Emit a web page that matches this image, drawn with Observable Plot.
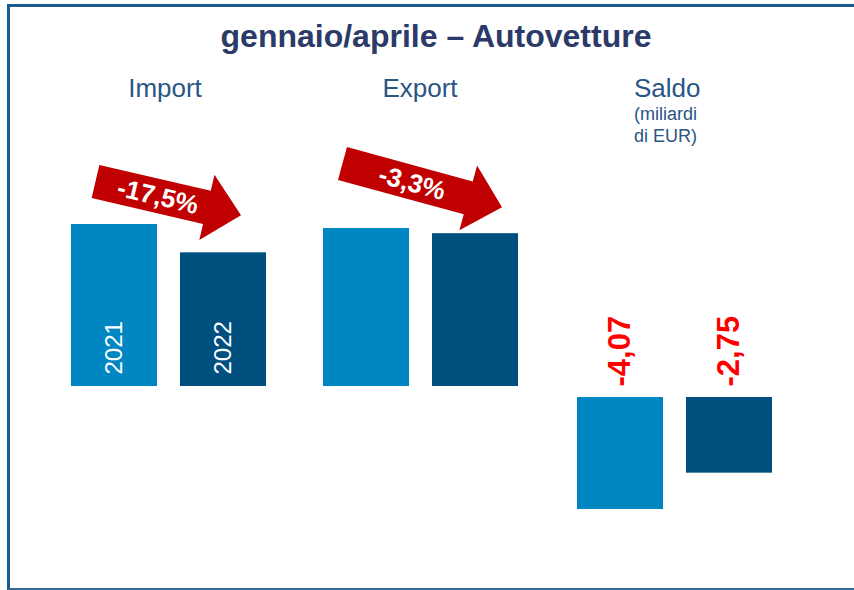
<!DOCTYPE html>
<html>
<head>
<meta charset="utf-8">
<script src="https://cdn.jsdelivr.net/npm/d3@7"></script>
<script src="https://cdn.jsdelivr.net/npm/@observablehq/plot@0.6"></script>
<style>
  body { margin: 0; background: #fff; font-family: "Liberation Sans", Arial, sans-serif; }
  #wrap { position: relative; width: 854px; height: 590px; overflow: hidden; background: #fff; }
  #frame { position: absolute; left: 7px; top: 4px; width: 900px; height: 581px;
           border-top: 3px solid #1b5a8a; border-left: 3px solid #1b5a8a; border-bottom: 2px solid #336b95; }
  .t { position: absolute; white-space: nowrap; }
  #title { left: 9px; width: 854px; top: 20px; text-align: center; font-size: 32px; line-height: 32px;
           font-weight: bold; color: #2b3a68; }
  .grp { font-size: 26px; line-height: 26px; color: #2a5584; top: 75px; width: 200px; text-align: center; }
  .sub { font-size: 18px; line-height: 18px; color: #2a5584; }
  .panel { position: absolute; top: 140px; }
</style>
</head>
<body>
<div id="wrap">
  <div id="frame"></div>
  <div id="title" class="t">gennaio/aprile – Autovetture</div>
  <div class="t grp" style="left:65px">Import</div>
  <div class="t grp" style="left:320px">Export</div>
  <div class="t grp" style="left:634px;width:auto;text-align:left">Saldo</div>
  <div class="t sub" style="left:634px;top:105px">(miliardi</div>
  <div class="t sub" style="left:634px;top:127px">di EUR)</div>
  <div id="p-import" class="panel" style="left:48px"></div>
  <div id="p-export" class="panel" style="left:300px"></div>
  <div id="p-saldo" class="panel" style="left:554px"></div>
</div>
<script>
// ---- data ----
const years = ["2021", "2022"];
const importValues = [8.35, 6.89];   // miliardi di EUR (estimated)
const exportValues = [4.28, 4.14];   // miliardi di EUR (estimated)
const saldoValues = [-4.07, -2.75];  // miliardi di EUR
const pctLabels = ["-17,5%", "-3,3%"];
const barColors = ["#0087c1", "#00507f"];

// ---- layout ----
const W = 241, H = 400;
const fmtComma = v => (v < 0 ? "-" : "") + Math.abs(v).toFixed(2).replace(".", ",");

function panel(el, values, pxPerUnit, zeroY, opts = {}) {
  const data = years.map((y, i) => ({year: y, value: values[i]}));
  const marks = [
    Plot.barY(data, {x: "year", y: "value", fill: "year"})
  ];
  if (opts.yearLabels) {
    marks.push(Plot.text(data, {x: "year", y: 0, text: "year", rotate: -90, textAnchor: "start",
      dy: -12, fill: "white", fontSize: 24}));
  }
  if (opts.valueLabels) {
    marks.push(Plot.text(data, {x: "year", y: 0, text: d => fmtComma(d.value), rotate: -90, textAnchor: "start",
      dy: -11, fill: "#ff0000", fontSize: 31, fontWeight: "bold"}));
  }
  const plot = Plot.plot({
    width: W, height: H,
    marginTop: 0, marginBottom: 0, marginLeft: 0, marginRight: 0,
    x: {domain: years, paddingInner: 0.211, paddingOuter: 0.211, round: false, axis: null},
    y: {domain: [-(H - zeroY) / pxPerUnit, zeroY / pxPerUnit], axis: null},
    color: {domain: years, range: barColors},
    style: {background: "transparent", overflow: "visible", fontFamily: "Liberation Sans, Arial, sans-serif"},
    marks
  });
  document.getElementById(el).appendChild(plot);

  if (opts.arrow) {
    const xs = plot.scale("x"), ys = plot.scale("y");
    const a = opts.arrow;
    const T = [xs.apply(years[0]) + a.tail[0], ys.apply(values[0]) + a.tail[1]];
    const P = [xs.apply(years[1]) + a.tip[0], ys.apply(values[1]) + a.tip[1]];
    const dx = P[0] - T[0], dy = P[1] - T[1], L = Math.hypot(dx, dy);
    const u = [dx / L, dy / L], n = [-u[1], u[0]];
    const w = 34, hw = 67, hl = 35;
    const B = [P[0] - u[0] * hl, P[1] - u[1] * hl];
    const pt = (o, k) => [o[0] + n[0] * k, o[1] + n[1] * k];
    const pts = [pt(T, -w / 2), pt(B, -w / 2), pt(B, -hw / 2), P, pt(B, hw / 2), pt(B, w / 2), pt(T, w / 2)];
    const svg = d3.select(plot);
    svg.append("path").attr("d", "M" + pts.map(p => p.join(",")).join("L") + "Z").attr("fill", "#c00000");
    const M = [(T[0] + B[0]) / 2 + u[0] * 7, (T[1] + B[1]) / 2 + u[1] * 7];
    const ang = Math.atan2(u[1], u[0]) * 180 / Math.PI;
    svg.append("text").attr("transform", `translate(${M[0]},${M[1]}) rotate(${ang})`)
      .attr("text-anchor", "middle").attr("dominant-baseline", "central")
      .attr("fill", "white").attr("font-weight", "bold").attr("font-size", 26)
      .attr("font-family", "Liberation Sans, Arial, sans-serif").text(a.label);
  }
}

panel("p-import", importValues, 162 / importValues[0], 246,
  {yearLabels: true, arrow: {tail: [24.5, -42.5], tip: [61, -37], label: pctLabels[0]}});
panel("p-export", exportValues, 158 / exportValues[0], 246,
  {arrow: {tail: [19.5, -64.5], tip: [70, -26], label: pctLabels[1]}});
panel("p-saldo", saldoValues, 112 / 4.07, 257, {valueLabels: true});
</script>
</body>
</html>
